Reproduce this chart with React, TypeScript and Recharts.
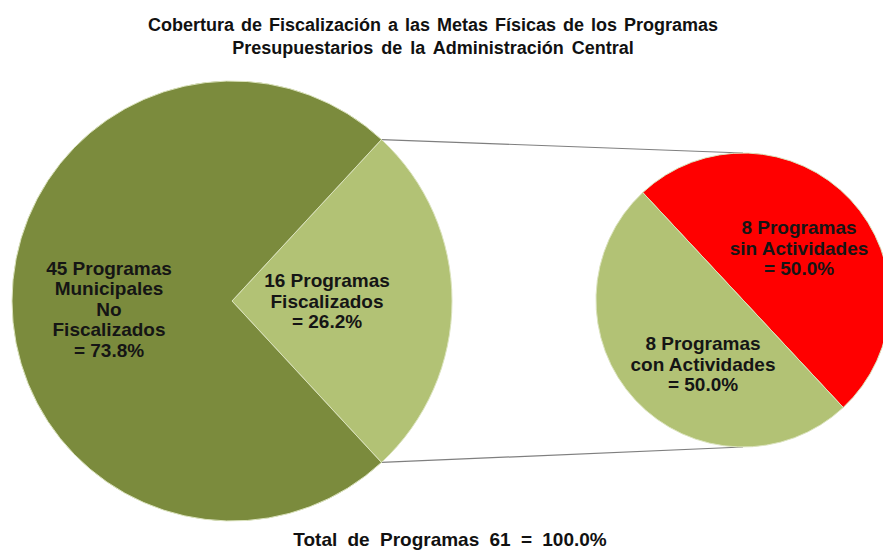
import React from "react";
import { PieChart, Pie, Cell, Customized } from "recharts";

// main pie: programs of the central administration
const mainNames = ["Programas Fiscalizados", "Programas Municipales No Fiscalizados"];
const mainCounts = [16, 45];
const mainCaptions = [["Fiscalizados"], ["Municipales", "No", "Fiscalizados"]];

// secondary pie: breakdown of the audited programs
const subNames = ["Programas sin Actividades", "Programas con Actividades"];
const subCounts = [8, 8];
const subCaptions = [["sin Actividades"], ["con Actividades"]];

const titleLines = [
  "Cobertura de Fiscalización a las Metas Físicas de los Programas",
  "Presupuestarios de la Administración Central",
];

const W = 883;
const H = 554;
const FONT = "'Liberation Sans', Arial, Helvetica, sans-serif";

const MAIN = { cx: 232, cy: 301, r: 220 };
const SUB = { cx: 743, cy: 300, r: 147 };

const mainColors = ["#B2C275", "#7B8B3D"];
const subColors = ["#FF0000", "#B2C275"];

// label centres relative to each pie's centre
const mainLabelPos = [
  [95, 0],
  [-123, 8],
];
const subLabelPos = [
  [56, -52],
  [-40, 64],
];

const total = mainCounts.reduce((a, b) => a + b, 0);
const subTotal = subCounts.reduce((a, b) => a + b, 0);

const mainData = mainNames.map((name, i) => ({
  name,
  value: mainCounts[i],
  lines: [
    `${mainCounts[i]} Programas`,
    ...mainCaptions[i],
    `= ${((mainCounts[i] / total) * 100).toFixed(1)}%`,
  ],
}));

const subData = subNames.map((name, i) => ({
  name,
  value: subCounts[i],
  lines: [
    `${subCounts[i]} Programas`,
    ...subCaptions[i],
    `= ${((subCounts[i] / subTotal) * 100).toFixed(1)}%`,
  ],
}));

// the fiscalized slice is centred on 3 o'clock, the red slice faces upper right
const mainStart = ((mainCounts[0] / total) * 360) / 2;
const subStart = 133;

function MultiLine({ x, y, lines, size = 19, lh = 20.5 }: any) {
  const first = y - ((lines.length - 1) * lh) / 2 + size * 0.35;
  return (
    <text
      x={x}
      y={first}
      textAnchor="middle"
      fontFamily={FONT}
      fontWeight="bold"
      fontSize={size}
      fill="#151515"
    >
      {lines.map((l: string, i: number) => (
        <tspan key={i} x={x} y={first + i * lh}>
          {l}
        </tspan>
      ))}
    </text>
  );
}

const makeLabel = (pos: number[][], data: any[]) => (props: any) => {
  const { cx, cy, index } = props;
  const [dx, dy] = pos[index];
  return <MultiLine x={cx + dx} y={cy + dy} lines={data[index].lines} />;
};

function Decorations() {
  const rad = (deg: number) => (deg * Math.PI) / 180;
  const top = {
    x1: MAIN.cx + MAIN.r * Math.cos(rad(mainStart)),
    y1: MAIN.cy - MAIN.r * Math.sin(rad(mainStart)),
    x2: SUB.cx,
    y2: SUB.cy - SUB.r,
  };
  const bottom = {
    x1: MAIN.cx + MAIN.r * Math.cos(rad(-mainStart)),
    y1: MAIN.cy - MAIN.r * Math.sin(rad(-mainStart)),
    x2: SUB.cx,
    y2: SUB.cy + SUB.r,
  };
  return (
    <g>
      <line {...top} stroke="#7f7f7f" strokeWidth={1.2} />
      <line {...bottom} stroke="#7f7f7f" strokeWidth={1.2} />
      <text
        x={433}
        y={31}
        textAnchor="middle"
        fontFamily={FONT}
        fontWeight="bold"
        fontSize={18}
        fill="#111"
        style={{ wordSpacing: 2 }}
      >
        {titleLines[0]}
      </text>
      <text
        x={433}
        y={54}
        textAnchor="middle"
        fontFamily={FONT}
        fontWeight="bold"
        fontSize={18}
        fill="#111"
        style={{ wordSpacing: 3 }}
      >
        {titleLines[1]}
      </text>
      <text
        x={450}
        y={546}
        textAnchor="middle"
        fontFamily={FONT}
        fontWeight="bold"
        fontSize={19}
        fill="#111"
        style={{ wordSpacing: 5 }}
      >
        {`Total de Programas ${total} = 100.0%`}
      </text>
    </g>
  );
}

export default function App() {
  return (
    <div style={{ width: W, height: H, background: "#fff" }}>
      <style>{`body{margin:0;background:#fff}`}</style>
      <PieChart width={W} height={H} margin={{ top: 0, right: 0, bottom: 0, left: 0 }}>
        <Customized component={Decorations} />
        <Pie
          data={mainData}
          dataKey="value"
          nameKey="name"
          cx={MAIN.cx}
          cy={MAIN.cy}
          outerRadius={MAIN.r}
          startAngle={mainStart}
          endAngle={mainStart - 360}
          stroke="#dbe3bd"
          strokeWidth={1}
          labelLine={false}
          label={makeLabel(mainLabelPos, mainData)}
          isAnimationActive={false}
        >
          {mainData.map((d, i) => (
            <Cell key={d.name} fill={mainColors[i]} />
          ))}
        </Pie>
        <Pie
          data={subData}
          dataKey="value"
          nameKey="name"
          cx={SUB.cx}
          cy={SUB.cy}
          outerRadius={SUB.r}
          startAngle={subStart}
          endAngle={subStart - 360}
          stroke="#dbe3bd"
          strokeWidth={1}
          labelLine={false}
          label={makeLabel(subLabelPos, subData)}
          isAnimationActive={false}
        >
          {subData.map((d, i) => (
            <Cell key={d.name} fill={subColors[i]} />
          ))}
        </Pie>
      </PieChart>
    </div>
  );
}
